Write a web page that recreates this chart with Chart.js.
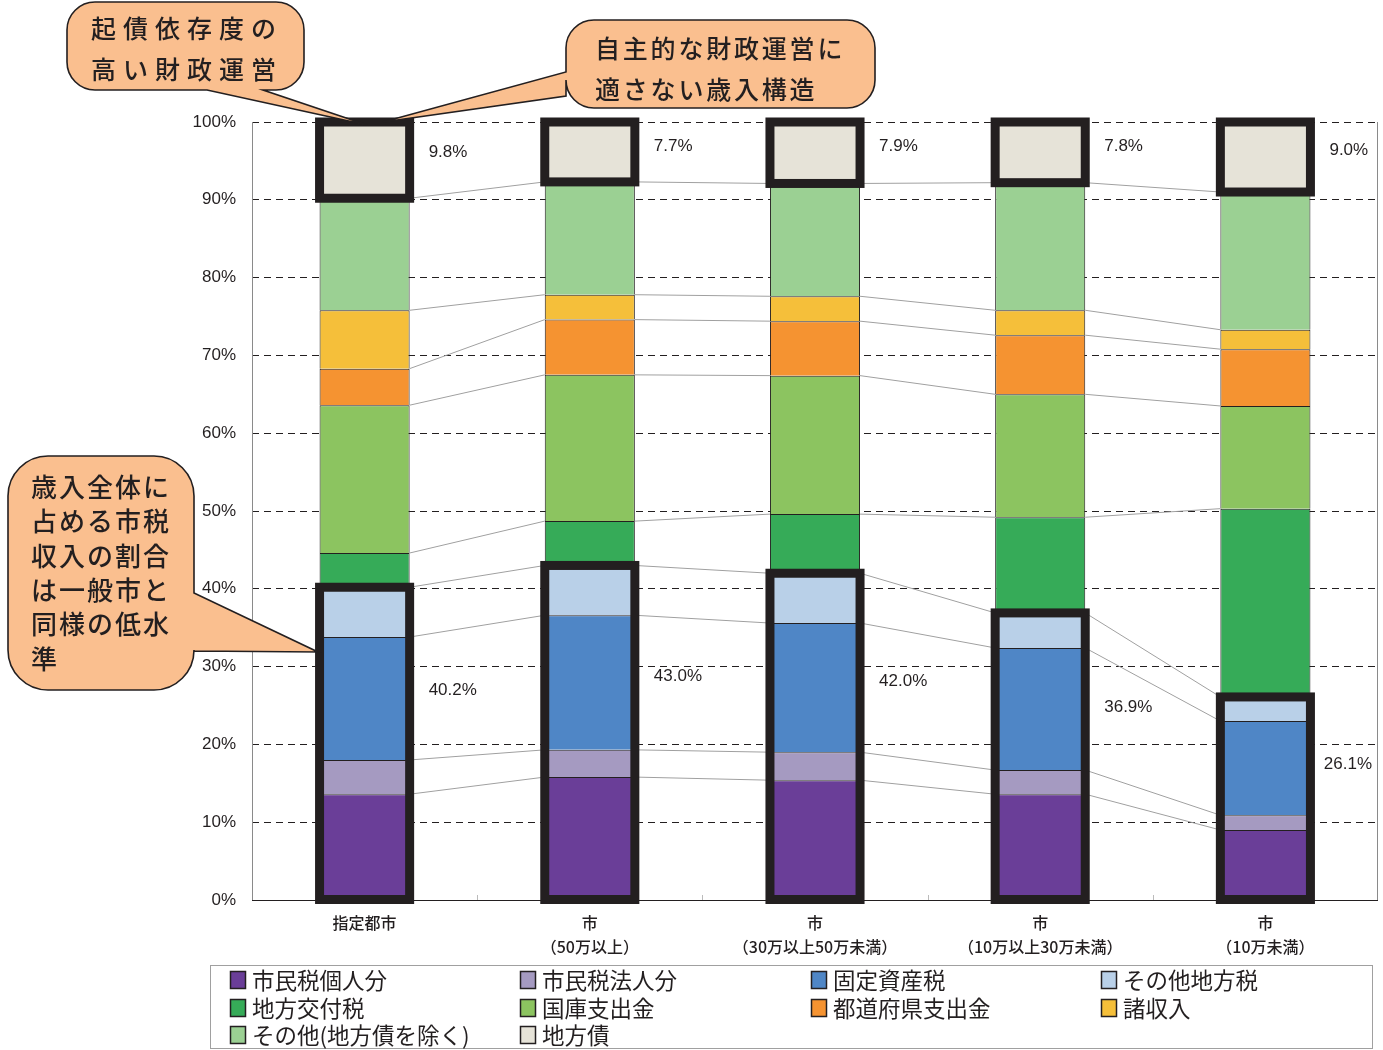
<!DOCTYPE html>
<html>
<head>
<meta charset="utf-8">
<script src="https://cdn.jsdelivr.net/npm/chart.js@4.4.1/dist/chart.umd.min.js"></script>
<style>
    html, body { margin: 0; padding: 0; background: #fff; }
    #wrap { width: 1383px; height: 1050px; }
</style>
</head>
<body>
<div id="wrap"><canvas id="revChart" width="1383" height="1050"></canvas></div>
<script>
// Categories (city size groups)
const categories = [
    ['指定都市'],
    ['市', '（50万以上）'],
    ['市', '（30万以上50万未満）'],
    ['市', '（10万以上30万未満）'],
    ['市', '（10万未満）'],
];

// Revenue shares (%)
const kojin     = [13.6, 15.8, 15.4, 13.6, 9.0];   // 市民税個人分
const houjin    = [4.4, 3.5, 3.6, 3.1, 1.9];       // 市民税法人分
const kotei     = [15.8, 17.3, 16.6, 15.7, 12.1];  // 固定資産税
const sonotaZei = [6.4, 6.4, 6.4, 4.5, 3.1];       // その他地方税
const koufu     = [4.4, 5.7, 7.6, 12.3, 24.2];     // 地方交付税
const kokko     = [19.0, 18.8, 17.8, 15.8, 13.2];  // 国庫支出金
const todofuken = [4.7, 7.1, 7.0, 7.6, 7.3];       // 都道府県支出金
const shoshu    = [7.5, 3.2, 3.2, 3.2, 2.5];       // 諸収入
const sonota    = [14.4, 14.5, 14.5, 16.4, 17.7];  // その他（地方債を除く）
const chihousai = [9.8, 7.7, 7.9, 7.8, 9.0];       // 地方債

const seriesNames = ['市民税個人分', '市民税法人分', '固定資産税', 'その他地方税', '地方交付税',
    '国庫支出金', '都道府県支出金', '諸収入', 'その他(地方債を除く)', '地方債'];
const seriesData = [kojin, houjin, kotei, sonotaZei, koufu, kokko, todofuken, shoshu, sonota, chihousai];
const seriesColors = ['#6A3E98', '#A59AC1', '#4F86C6', '#B9D0E8', '#36AB58',
    '#8CC460', '#F59331', '#F5BF3A', '#9BD093', '#E6E3D8'];

const yTicks = [0, 10, 20, 30, 40, 50, 60, 70, 80, 90, 100];

// tax share = first four series
const taxTotals = kojin.map((v, i) => v + houjin[i] + kotei[i] + sonotaZei[i]);

const INK = '#231F20';
const BUBBLE = '#FABF8F';

function bubblePath(ctx, x, y, w, h, r, side, a, b, tx, ty) {
    ctx.beginPath();
    ctx.moveTo(x + r, y);
    ctx.arcTo(x + w, y, x + w, y + h, r);
    if (side === 'right') { ctx.lineTo(x + w, a); ctx.lineTo(tx, ty); ctx.lineTo(x + w, b); }
    ctx.arcTo(x + w, y + h, x, y + h, r);
    if (side === 'bottom') { ctx.lineTo(a, y + h); ctx.lineTo(tx, ty); ctx.lineTo(b, y + h); }
    ctx.arcTo(x, y + h, x, y, r);
    if (side === 'left') { ctx.lineTo(x, a); ctx.lineTo(tx, ty); ctx.lineTo(x, b); }
    ctx.arcTo(x, y, x + w, y, r);
    ctx.closePath();
}

function spacedText(ctx, str, x, y, step) {
    [...str].forEach((ch, i) => ctx.fillText(ch, x + i * step, y));
}

// series lines, frame and thick outlines
const overlayPlugin = {
    id: 'overlay',
    beforeDatasetsDraw(chart) {
        const ctx = chart.ctx;
        const area = chart.chartArea;
        ctx.save();
        // small ticks between categories
        ctx.strokeStyle = '#BBBBBB';
        ctx.lineWidth = 1;
        for (let i = 1; i < categories.length; i++) {
            const x = Math.round(area.left + (area.right - area.left) * i / categories.length) + 0.5;
            ctx.beginPath();
            ctx.moveTo(x, area.bottom - 5);
            ctx.lineTo(x, area.bottom);
            ctx.stroke();
        }
        // frame
        ctx.strokeStyle = '#8A8A8A';
        ctx.beginPath();
        ctx.moveTo(area.left + 0.5, area.top);
        ctx.lineTo(area.left + 0.5, area.bottom);
        ctx.moveTo(area.right - 0.5, area.top);
        ctx.lineTo(area.right - 0.5, area.bottom);
        ctx.stroke();
        ctx.strokeStyle = INK;
        ctx.beginPath();
        ctx.moveTo(area.left, area.bottom + 0.5);
        ctx.lineTo(area.right, area.bottom + 0.5);
        ctx.stroke();
        ctx.restore();
    },
    afterDatasetsDraw(chart) {
        const ctx = chart.ctx;
        const y = chart.scales.y;
        ctx.save();
        // series lines between neighbouring bars
        ctx.strokeStyle = '#A0A0A0';
        ctx.lineWidth = 1;
        for (let d = 0; d < seriesData.length - 1; d++) {
            const bars = chart.getDatasetMeta(d).data;
            for (let i = 0; i < bars.length - 1; i++) {
                const a = bars[i], b = bars[i + 1];
                ctx.beginPath();
                ctx.moveTo(a.x + a.width / 2, a.y);
                ctx.lineTo(b.x - b.width / 2, b.y);
                ctx.stroke();
            }
        }
        // thick outlines: 地方債 and the tax group
        ctx.strokeStyle = INK;
        ctx.lineWidth = 9;
        const debt = chart.getDatasetMeta(9).data;
        const tax = chart.getDatasetMeta(3).data;
        const base = chart.getDatasetMeta(0).data;
        debt.forEach((bar, i) => {
            const l = bar.x - bar.width / 2;
            ctx.strokeRect(l, bar.y, bar.width, bar.base - bar.y);
            const t = tax[i];
            ctx.strokeRect(l, t.y, bar.width, base[i].base - t.y);
        });
        // percent labels
        ctx.fillStyle = INK;
        ctx.font = '17px "Liberation Sans", Arial, sans-serif';
        ctx.textAlign = 'left';
        ctx.textBaseline = 'middle';
        const maxRight = chart.chartArea.right - 6;
        const place = (txt, x) => Math.min(x, maxRight - ctx.measureText(txt).width);
        debt.forEach((bar, i) => {
            const x = bar.x + bar.width / 2 + 19;
            const t1 = chihousai[i].toFixed(1) + '%';
            const t2 = taxTotals[i].toFixed(1) + '%';
            ctx.fillText(t1, place(t1, x), y.getPixelForValue(100 - chihousai[i] * 0.4));
            ctx.fillText(t2, place(t2, x), y.getPixelForValue(taxTotals[i] * 0.67));
        });
        ctx.restore();
    },
    afterDraw(chart) {
        const ctx = chart.ctx;
        ctx.save();
        // callouts
        ctx.fillStyle = BUBBLE;
        ctx.strokeStyle = INK;
        ctx.lineWidth = 1.6;
        bubblePath(ctx, 67, 2, 237, 88, 28, 'bottom', 263, 207, 367, 125);
        ctx.fill(); ctx.stroke();
        bubblePath(ctx, 566, 20, 309, 88, 28, 'left', 96, 72, 383, 122);
        ctx.fill(); ctx.stroke();
        bubblePath(ctx, 8, 456, 186, 234, 40, 'right', 593, 651, 318, 652);
        ctx.fill(); ctx.stroke();

        ctx.fillStyle = INK;
        ctx.textAlign = 'left';
        ctx.textBaseline = 'middle';
        ctx.font = '500 25px "Noto Sans CJK JP", sans-serif';
        spacedText(ctx, '起債依存度の', 91, 28, 32);
        spacedText(ctx, '高い財政運営', 91, 69, 32);
        ctx.font = '500 25px "Noto Sans CJK JP", sans-serif';
        spacedText(ctx, '自主的な財政運営に', 595, 48, 27.8);
        spacedText(ctx, '適さない歳入構造', 595, 89, 27.8);
        ctx.font = '500 26px "Noto Sans CJK JP", sans-serif';
        ['歳入全体に', '占める市税', '収入の割合', 'は一般市と', '同様の低水', '準'].forEach((line, i) => {
            spacedText(ctx, line, 31, 487 + i * 34.4, 28);
        });

        // legend
        ctx.strokeStyle = '#A0A0A0';
        ctx.lineWidth = 1;
        ctx.strokeRect(210.5, 965.5, 1162, 83);
        ctx.font = '22.5px "Noto Sans CJK JP", sans-serif';
        const cols = [230, 520, 811, 1101];
        const rows = [980, 1008, 1035];
        seriesNames.forEach((name, i) => {
            const x = cols[i % 4], yy = rows[Math.floor(i / 4)];
            ctx.fillStyle = seriesColors[i];
            ctx.fillRect(x, yy - 9, 16, 18);
            ctx.strokeStyle = INK;
            ctx.lineWidth = 1.5;
            ctx.strokeRect(x + 0.5, yy - 8.5, 15, 17);
            ctx.fillStyle = INK;
            ctx.fillText(name, x + 22, yy);
        });
        ctx.restore();
    }
};

document.addEventListener('DOMContentLoaded', () => {
    const ctx = document.getElementById('revChart').getContext('2d');
    new Chart(ctx, {
        type: 'bar',
        data: {
            labels: categories,
            datasets: seriesData.map((data, i) => ({
                label: seriesNames[i],
                data: data,
                backgroundColor: seriesColors[i],
                borderColor: INK,
                borderWidth: 1,
                categoryPercentage: 1.0,
                barPercentage: 0.4,
            }))
        },
        options: {
            responsive: false,
            animation: false,
            layout: { padding: { top: 122, right: 5, left: 0, bottom: 0 } },
            plugins: {
                legend: { display: false },
                tooltip: { enabled: false },
            },
            scales: {
                x: {
                    stacked: true,
                    grid: { display: false },
                    border: { display: false },
                    afterFit: (s) => { s.height = 150; },
                    ticks: {
                        color: INK,
                        padding: 3,
                        maxRotation: 0,
                        font: { family: '"Noto Sans CJK JP", sans-serif', size: 16, weight: '500', lineHeight: 1.5 },
                    }
                },
                y: {
                    stacked: true,
                    min: 0,
                    max: 100,
                    afterFit: (s) => { s.width = 252; },
                    afterBuildTicks: (s) => { s.ticks = yTicks.map(v => ({ value: v })); },
                    grid: { color: INK, lineWidth: 1, drawTicks: false },
                    border: { display: false, dash: [7, 5] },
                    ticks: {
                        color: INK,
                        padding: 16,
                        font: { family: '"Liberation Sans", Arial, sans-serif', size: 17 },
                        callback: (v) => v + '%',
                    }
                }
            }
        },
        plugins: [overlayPlugin]
    });
});
</script>
</body>
</html>
